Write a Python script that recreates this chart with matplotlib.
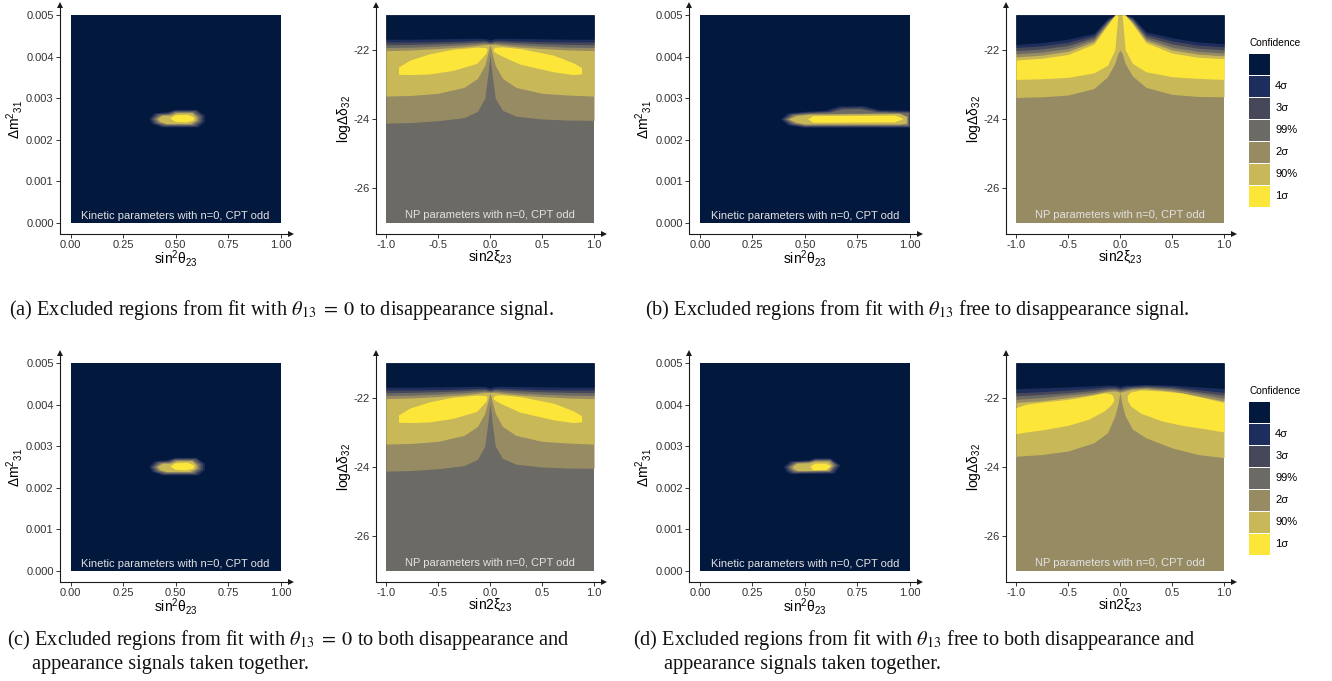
import matplotlib
matplotlib.use("Agg")
import matplotlib.pyplot as plt
from matplotlib.patches import Patch

plt.rcParams.update({
    "font.family": ["Liberation Sans", "DejaVu Sans"],
    "mathtext.fontset": "custom",
    "mathtext.rm": "Liberation Sans",
    "mathtext.it": "Liberation Sans:italic",
    "mathtext.bf": "Liberation Sans:bold",
    "mathtext.sf": "Liberation Sans",
    "axes.unicode_minus": False,
})

W, H = 1332, 681

# ---------------------------------------------------------------- levels
level_labels = ["", "4σ", "3σ", "99%", "2σ", "90%", "1σ"]
level_colors = ["#03183d", "#1d2d5c", "#46485a", "#6b6a65", "#968b63", "#c9b858", "#fde63a"]

# ---------------------------------------------------------------- ticks
kin_xticks = [0.0, 0.25, 0.5, 0.75, 1.0]
kin_xticklabels = ["0.00", "0.25", "0.50", "0.75", "1.00"]
kin_yticks = [0.0, 0.001, 0.002, 0.003, 0.004, 0.005]
kin_yticklabels = ["0.000", "0.001", "0.002", "0.003", "0.004", "0.005"]
np_xticks = [-1.0, -0.5, 0.0, 0.5, 1.0]
np_xticklabels = ["-1.0", "-0.5", "0.0", "0.5", "1.0"]
np_yticks = [-26, -24, -22]
np_yticklabels = ["-26", "-24", "-22"]

# ---------------------------------------------------------------- kinetic contours (sin^2 theta23, dm^2_31)
kin_a_4s = [(0.375, 0.00250), (0.40, 0.00264), (0.46, 0.00266), (0.50, 0.00272), (0.60, 0.00272),
            (0.64, 0.00258), (0.64, 0.00243), (0.61, 0.00230), (0.44, 0.00230), (0.39, 0.00238)]
kin_a_3s = [(0.385, 0.00250), (0.41, 0.00262), (0.46, 0.00264), (0.50, 0.00270), (0.60, 0.00270),
            (0.63, 0.00257), (0.63, 0.00244), (0.60, 0.00232), (0.44, 0.00232), (0.40, 0.00239)]
kin_a_99 = [(0.395, 0.00250), (0.42, 0.00261), (0.47, 0.00262), (0.50, 0.00268), (0.59, 0.00268),
            (0.62, 0.00256), (0.62, 0.00245), (0.59, 0.00234), (0.45, 0.00234), (0.41, 0.00240)]
kin_a_2s = [(0.405, 0.00250), (0.43, 0.00259), (0.47, 0.00260), (0.50, 0.00266), (0.58, 0.00266),
            (0.61, 0.00255), (0.61, 0.00246), (0.58, 0.00236), (0.46, 0.00236), (0.42, 0.00241)]
kin_a_90 = [(0.415, 0.00250), (0.44, 0.00258), (0.48, 0.00258), (0.51, 0.00264), (0.58, 0.00264),
            (0.60, 0.00254), (0.60, 0.00246), (0.57, 0.00238), (0.46, 0.00238), (0.43, 0.00242)]
kin_a_1s = [(0.475, 0.00251), (0.50, 0.00259), (0.56, 0.00260), (0.59, 0.00253), (0.585, 0.00246),
            (0.55, 0.00242), (0.50, 0.00243)]

kin_b_4s = [(0.385, 0.00249), (0.42, 0.00264), (0.52, 0.00268), (0.60, 0.00270), (0.66, 0.00280),
            (0.78, 0.00281), (0.86, 0.00271), (1.0, 0.00270), (1.0, 0.00229), (0.50, 0.00229), (0.42, 0.00235)]
kin_b_3s = [(0.395, 0.00249), (0.43, 0.00262), (0.52, 0.00266), (0.61, 0.00268), (0.67, 0.00277),
            (0.77, 0.00278), (0.85, 0.00269), (1.0, 0.00267), (1.0, 0.00231), (0.50, 0.00231), (0.43, 0.00236)]
kin_b_99 = [(0.405, 0.00249), (0.44, 0.00261), (0.52, 0.00264), (0.62, 0.00266), (0.68, 0.00273),
            (0.76, 0.00274), (0.84, 0.00267), (0.995, 0.00265), (0.995, 0.00233), (0.50, 0.00233), (0.44, 0.00238)]
kin_b_2s = [(0.415, 0.00249), (0.45, 0.00259), (0.52, 0.00262), (0.95, 0.00264), (0.99, 0.00256),
            (0.99, 0.00237), (0.95, 0.00235), (0.50, 0.00235), (0.45, 0.00239)]
kin_b_90 = [(0.425, 0.00249), (0.46, 0.00257), (0.52, 0.00260), (0.95, 0.00262), (0.985, 0.00255),
            (0.985, 0.00239), (0.95, 0.00237), (0.50, 0.00237), (0.46, 0.00241)]
kin_b_1s = [(0.515, 0.00249), (0.54, 0.00257), (0.93, 0.00258), (0.97, 0.00250), (0.93, 0.00242),
            (0.54, 0.00241)]

kin_d_4s = [(0.40, 0.00250), (0.43, 0.00264), (0.52, 0.00266), (0.55, 0.00271), (0.62, 0.00271),
            (0.67, 0.00254), (0.64, 0.00234), (0.43, 0.00233), (0.41, 0.00240)]
kin_d_3s = [(0.41, 0.00250), (0.44, 0.00262), (0.52, 0.00264), (0.55, 0.00269), (0.62, 0.00269),
            (0.66, 0.00254), (0.63, 0.00236), (0.44, 0.00235), (0.42, 0.00241)]
kin_d_99 = [(0.42, 0.00250), (0.45, 0.00261), (0.52, 0.00263), (0.55, 0.00267), (0.62, 0.00267),
            (0.65, 0.00254), (0.62, 0.00238), (0.45, 0.00237), (0.43, 0.00242)]
kin_d_2s = [(0.43, 0.00250), (0.46, 0.00260), (0.52, 0.00261), (0.55, 0.00265), (0.62, 0.00265),
            (0.64, 0.00254), (0.62, 0.00240), (0.46, 0.00239), (0.44, 0.00243)]
kin_d_90 = [(0.44, 0.00250), (0.465, 0.00258), (0.52, 0.00259), (0.55, 0.00263), (0.61, 0.00263),
            (0.63, 0.00254), (0.61, 0.00241), (0.47, 0.00240), (0.45, 0.00244)]
kin_d_1s = [(0.525, 0.00251), (0.55, 0.00258), (0.60, 0.00258), (0.625, 0.00251), (0.60, 0.00243),
            (0.54, 0.00242)]

# ---------------------------------------------------------------- NP contours (sin2xi23, log delta32)
# boundaries are sampled on a common sin2xi23 grid; each array is the lower edge of the
# region lying above it
np_x = [-1.0, -0.75, -0.5, -0.25, -0.12, -0.05, -0.02, 0.0, 0.02, 0.05, 0.12, 0.25, 0.5, 0.75, 1.0]

np_a_2s_lo = [-24.12, -24.10, -24.05, -23.96, -23.78, -23.40, -22.70, -22.16, -22.70, -23.40, -23.75, -23.92, -24.00, -24.03, -24.04]
np_a_90_lo = [-23.34, -23.32, -23.26, -23.09, -22.83, -22.45, -22.10, -21.85, -22.10, -22.45, -22.83, -23.09, -23.26, -23.31, -23.34]
np_a_90_hi = [-22.03, -22.01, -21.97, -21.92, -21.88, -21.85, -21.85, -21.85, -21.85, -21.85, -21.88, -21.92, -21.97, -22.01, -22.03]
np_a_2s_hi = [-21.94, -21.93, -21.90, -21.86, -21.83, -21.81, -21.82, -21.83, -21.82, -21.81, -21.83, -21.86, -21.90, -21.93, -21.94]
np_a_99_hi = [-21.86, -21.85, -21.83, -21.80, -21.78, -21.77, -21.79, -21.80, -21.79, -21.77, -21.78, -21.80, -21.83, -21.85, -21.86]
np_a_3s_hi = [-21.78, -21.78, -21.77, -21.75, -21.73, -21.73, -21.75, -21.77, -21.75, -21.73, -21.73, -21.75, -21.77, -21.78, -21.78]
np_a_4s_hi = [-21.70, -21.70, -21.69, -21.68, -21.67, -21.68, -21.70, -21.72, -21.70, -21.68, -21.67, -21.68, -21.69, -21.70, -21.70]
np_a_isl_left_x = [-0.88, -0.77, -0.58, -0.36, -0.13, -0.04, -0.03]
np_a_isl_left_lo = [-22.71, -22.72, -22.70, -22.60, -22.40, -22.11, -22.03]
np_a_isl_left_hi = [-22.50, -22.30, -22.12, -21.99, -21.93, -21.94, -21.98]
np_a_isl_right_x = [0.03, 0.05, 0.11, 0.29, 0.61, 0.80, 0.88]
np_a_isl_right_lo = [-22.03, -22.08, -22.18, -22.42, -22.64, -22.72, -22.70]
np_a_isl_right_hi = [-21.98, -21.93, -21.92, -21.97, -22.16, -22.38, -22.52]

np_b_90_lo = [-23.38, -23.36, -23.31, -23.12, -22.78, -22.40, -22.11, -22.01, -22.11, -22.40, -22.76, -23.09, -23.29, -23.35, -23.36]
np_b_1s_lo = [-22.86, -22.84, -22.80, -22.67, -22.45, -22.01, -21.00, -21.00, -21.00, -22.01, -22.40, -22.64, -22.78, -22.83, -22.86]
np_b_1s_hi = [-22.30, -22.25, -22.14, -21.84, -21.30, -21.00, -21.00, -21.00, -21.00, -21.00, -21.26, -21.80, -22.10, -22.22, -22.26]
np_b_90_hi = [-22.21, -22.16, -22.05, -21.77, -21.26, -21.00, -21.00, -21.00, -21.00, -21.00, -21.22, -21.74, -22.01, -22.13, -22.18]
np_b_2s_hi = [-22.12, -22.07, -21.97, -21.71, -21.22, -21.00, -21.00, -21.00, -21.00, -21.00, -21.18, -21.68, -21.93, -22.05, -22.10]
np_b_99_hi = [-22.03, -21.98, -21.88, -21.65, -21.18, -21.00, -21.00, -21.00, -21.00, -21.00, -21.14, -21.62, -21.84, -21.96, -22.01]
np_b_3s_hi = [-21.94, -21.89, -21.79, -21.59, -21.14, -21.00, -21.00, -21.00, -21.00, -21.00, -21.10, -21.55, -21.75, -21.87, -21.92]
np_b_4s_hi = [-21.85, -21.80, -21.70, -21.53, -21.10, -21.00, -21.00, -21.00, -21.00, -21.00, -21.06, -21.48, -21.66, -21.78, -21.83]

np_d_90_lo = [-23.69, -23.64, -23.54, -23.30, -23.01, -22.53, -22.19, -21.85, -22.19, -22.53, -22.91, -23.16, -23.45, -23.64, -23.73]
np_d_90_hi = [-22.14, -22.09, -22.00, -21.90, -21.82, -21.81, -21.83, -21.85, -21.83, -21.81, -21.76, -21.74, -21.81, -21.95, -22.10]
np_d_2s_hi = [-22.05, -22.00, -21.92, -21.85, -21.78, -21.77, -21.79, -21.81, -21.79, -21.77, -21.73, -21.71, -21.76, -21.88, -22.02]
np_d_99_hi = [-21.95, -21.91, -21.86, -21.79, -21.74, -21.73, -21.75, -21.77, -21.75, -21.73, -21.70, -21.68, -21.72, -21.83, -21.93]
np_d_3s_hi = [-21.86, -21.83, -21.78, -21.73, -21.69, -21.69, -21.71, -21.73, -21.71, -21.69, -21.67, -21.65, -21.68, -21.77, -21.85]
np_d_4s_hi = [-21.74, -21.72, -21.69, -21.66, -21.64, -21.64, -21.66, -21.68, -21.66, -21.64, -21.64, -21.62, -21.64, -21.69, -21.74]
np_d_isl_left_x = [-1.0, -0.9, -0.75, -0.5, -0.3, -0.15, -0.08, -0.06]
np_d_isl_left_lo = [-23.04, -22.99, -22.93, -22.80, -22.62, -22.38, -22.19, -22.07]
np_d_isl_left_hi = [-22.29, -22.19, -22.13, -22.05, -21.95, -21.86, -21.90, -22.03]
np_d_isl_right_x = [0.07, 0.1, 0.2, 0.4, 0.6, 0.8, 1.0]
np_d_isl_right_lo = [-22.07, -22.24, -22.45, -22.67, -22.80, -22.89, -22.99]
np_d_isl_right_hi = [-21.93, -21.84, -21.78, -21.81, -21.87, -22.00, -22.14]

kin_note = "Kinetic parameters with n=0, CPT odd"
np_note = "NP parameters with n=0, CPT odd"

caption_a = r"(a) Excluded regions from fit with $\theta_{13}\;=\;0$ to disappearance signal."
caption_b = r"(b) Excluded regions from fit with $\theta_{13}$ free to disappearance signal."
caption_c = [r"(c) Excluded regions from fit with $\theta_{13}\;=\;0$ to both disappearance and",
             "appearance signals taken together."]
caption_d = [r"(d) Excluded regions from fit with $\theta_{13}$ free to both disappearance and",
             "appearance signals taken together."]

# ---------------------------------------------------------------- drawing helpers
fig = plt.figure(figsize=(W / 100, H / 100), dpi=100)


def add_axes_px(left, top, right, bottom):
    return fig.add_axes([left / W, 1 - bottom / H, (right - left) / W, (bottom - top) / H])


def style_axes(ax):
    for s in ("top", "right"):
        ax.spines[s].set_visible(False)
    for s in ("left", "bottom"):
        ax.spines[s].set_linewidth(0.8)
        ax.spines[s].set_color("#1a1a1a")
    ax.plot([1], [0], marker=">", ms=4.5, color="#1a1a1a", mew=0,
            transform=ax.transAxes, clip_on=False)
    ax.plot([0], [1], marker="^", ms=4.5, color="#1a1a1a", mew=0,
            transform=ax.transAxes, clip_on=False)
    ax.tick_params(direction="out", length=3, width=0.7, color="#333333",
                   labelsize=8, labelcolor="#333333", pad=1.5)
    ax.set_facecolor("none")


def draw_kinetic(ax, shells):
    ax.fill_between([0, 1], [0, 0], [0.005, 0.005], color=level_colors[0], lw=0)
    for idx, poly in shells:
        ax.fill([p[0] for p in poly], [p[1] for p in poly], color=level_colors[idx], lw=0)
    ax.set_xlim(-0.05, 1.05)
    ax.set_ylim(-0.00025, 0.00525)
    ax.set_xticks(kin_xticks, kin_xticklabels)
    ax.set_yticks(kin_yticks, kin_yticklabels)
    ax.text(0.5, 0.00011, kin_note, ha="center", va="baseline", color="#e2e2e2", fontsize=8)
    ax.set_xlabel(r"$\mathrm{sin}^{2}\mathrm{\theta}_{23}$", fontsize=10, labelpad=-1)
    ax.set_ylabel(r"$\Delta\mathrm{m}^{2}{}_{31}$", fontsize=10, labelpad=1)
    style_axes(ax)


def draw_np(ax, base, layers, islands):
    ax.fill_between([-1, 1], [-27, -27], [-21, -21], color=level_colors[base], lw=0)
    for idx, edge in layers:
        ax.fill_between(np_x, edge, [-21] * len(np_x), color=level_colors[idx], lw=0)
    for xs, lo, hi in islands:
        ax.fill_between(xs, lo, hi, color=level_colors[6], lw=0)
    ax.set_xlim(-1.1, 1.1)
    ax.set_ylim(-27.3, -20.7)
    ax.set_xticks(np_xticks, np_xticklabels)
    ax.set_yticks(np_yticks, np_yticklabels)
    ax.text(0.0, -26.85, np_note, ha="center", va="baseline", color="#e2e2e2", fontsize=8)
    ax.set_xlabel(r"$\mathrm{sin2\xi}_{23}$", fontsize=10, labelpad=-1)
    ax.set_ylabel(r"$\mathrm{log\Delta\delta}_{32}$", fontsize=10, labelpad=0)
    style_axes(ax)


def add_legend(top):
    handles = [Patch(facecolor=c, edgecolor="none") for c in level_colors]
    leg = fig.legend(handles, level_labels, title="Confidence", loc="upper left",
                     bbox_to_anchor=(1249 / W, 1 - top / H), frameon=False,
                     fontsize=8, title_fontsize=7.3, handlelength=1.9, handleheight=2.53,
                     labelspacing=0.09, handletextpad=0.45, borderpad=0, borderaxespad=0,
                     alignment="left")
    leg._legend_box.sep = 4


shells_a = [(1, kin_a_4s), (2, kin_a_3s), (3, kin_a_99), (4, kin_a_2s), (5, kin_a_90), (6, kin_a_1s)]
shells_b = [(1, kin_b_4s), (2, kin_b_3s), (3, kin_b_99), (4, kin_b_2s), (5, kin_b_90), (6, kin_b_1s)]
shells_d = [(1, kin_d_4s), (2, kin_d_3s), (3, kin_d_99), (4, kin_d_2s), (5, kin_d_90), (6, kin_d_1s)]

layers_a = [(4, np_a_2s_lo), (5, np_a_90_lo), (4, np_a_90_hi), (3, np_a_2s_hi),
            (2, np_a_99_hi), (1, np_a_3s_hi), (0, np_a_4s_hi)]
islands_a = [(np_a_isl_left_x, np_a_isl_left_lo, np_a_isl_left_hi),
             (np_a_isl_right_x, np_a_isl_right_lo, np_a_isl_right_hi)]
layers_b = [(5, np_b_90_lo), (6, np_b_1s_lo), (5, np_b_1s_hi), (4, np_b_90_hi),
            (3, np_b_2s_hi), (2, np_b_99_hi), (1, np_b_3s_hi), (0, np_b_4s_hi)]
layers_d = [(5, np_d_90_lo), (4, np_d_90_hi), (3, np_d_2s_hi), (2, np_d_99_hi),
            (1, np_d_3s_hi), (0, np_d_4s_hi)]
islands_d = [(np_d_isl_left_x, np_d_isl_left_lo, np_d_isl_left_hi),
             (np_d_isl_right_x, np_d_isl_right_lo, np_d_isl_right_hi)]

row_tops = [4.5, 352.5]
panel_h = 229

for r in range(2):
    top = row_tops[r]
    bottom = top + panel_h
    # left half: theta13 = 0
    ax = add_axes_px(60, top, 291, bottom)
    draw_kinetic(ax, shells_a)
    ax = add_axes_px(375.6, top, 604.4, bottom)
    draw_np(ax, 3, layers_a, islands_a)
    # right half: theta13 free
    ax = add_axes_px(689.5, top, 920.5, bottom)
    draw_kinetic(ax, shells_b if r == 0 else shells_d)
    ax = add_axes_px(1005.6, top, 1234.4, bottom)
    if r == 0:
        draw_np(ax, 4, layers_b, [])
    else:
        draw_np(ax, 4, layers_d, islands_d)
    add_legend(top + 33.5)

cap_kw = dict(family="Liberation Serif", math_fontfamily="stix", fontsize=14.6,
              va="baseline", ha="left", color="#111111")
fig.text(9 / W, 1 - 315 / H, caption_a, **cap_kw)
fig.text(645 / W, 1 - 315 / H, caption_b, **cap_kw)
fig.text(7 / W, 1 - 645 / H, caption_c[0], **cap_kw)
fig.text(32 / W, 1 - 669 / H, caption_c[1], **cap_kw)
fig.text(633 / W, 1 - 645 / H, caption_d[0], **cap_kw)
fig.text(664 / W, 1 - 669 / H, caption_d[1], **cap_kw)

fig.savefig("out.png", dpi=100, facecolor="white")
